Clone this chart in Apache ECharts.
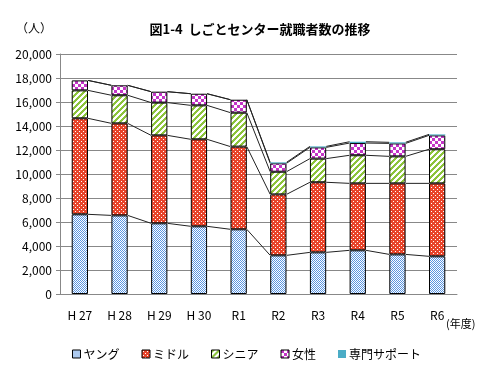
<!DOCTYPE html>
<html><head><meta charset="utf-8">
<script src="https://cdn.jsdelivr.net/npm/echarts@6/dist/echarts.min.js"></script>
<style>html,body{margin:0;padding:0;background:#fff}#c{width:493px;height:385px}</style>
</head><body><div id="c"></div>
<script>
var categories = ['H 27','H 28','H 29','H 30','R1','R2','R3','R4','R5','R6'];
var young   = [6640, 6550, 5890, 5640, 5390, 3220, 3470, 3640, 3300, 3140];
var middle  = [8000, 7670, 7330, 7250, 6890, 5080, 5840, 5580, 5920, 6080];
var senior  = [2330, 2340, 2730, 2830, 2830, 1890, 1970, 2340, 2250, 2840];
var women   = [830, 830, 910, 970, 1080, 700, 940, 1020, 1080, 1160];
var special = [0, 0, 0, 0, 0, 80, 80, 110, 90, 80];
var seriesNames = ['ヤング','ミドル','シニア','女性','専門サポート'];
var yTicks = [0,2000,4000,6000,8000,10000,12000,14000,16000,18000,20000];

function makePattern(w,h,draw){
  var c=document.createElement('canvas');c.width=w;c.height=h;
  var ctx=c.getContext('2d');draw(ctx,w,h);return {image:c,repeat:'repeat'};
}
var patYoung = makePattern(4,4,function(ctx){
  ctx.fillStyle='#ffffff';ctx.fillRect(0,0,4,4);
  ctx.fillStyle='#5b95e0';
  for(var y=0;y<4;y++)for(var x=0;x<4;x++){ if((x+y)%2===0) ctx.fillRect(x,y,1,1);}
});
var patMiddle = makePattern(4,4,function(ctx){
  ctx.fillStyle='#e8442a';ctx.fillRect(0,0,4,4);
  ctx.fillStyle='#ffffff';ctx.fillRect(1,1,1,1);ctx.fillRect(3,3,1,1);
});
var patSenior = makePattern(6,6,function(ctx){
  ctx.fillStyle='#ffffff';ctx.fillRect(0,0,6,6);
  ctx.fillStyle='#8cc43c';
  for(var y=0;y<6;y++){ for(var k=0;k<3;k++){ var x=(6-y+k)%6; ctx.fillRect(x,y,1,1);} }
});
var patWomen = makePattern(6,6,function(ctx){
  ctx.fillStyle='#ffffff';ctx.fillRect(0,0,6,6);
  ctx.fillStyle='#c435c8';ctx.fillRect(0,0,3,3);ctx.fillRect(3,3,3,3);
});
var colors=[patYoung,patMiddle,patSenior,patWomen,'#4bacc6'];
var dataSets=[young,middle,senior,women,special];

var cum=[];var acc=categories.map(function(){return 0;});
dataSets.forEach(function(d){acc=acc.map(function(a,i){return a+d[i];});cum.push(acc.slice());});

var BW=0.41;
var series=dataSets.map(function(d,k){
  return {name:seriesNames[k],type:'bar',stack:'s',barWidth:(BW*100)+'%',data:d,
    itemStyle:{color:colors[k],borderColor:'#000',borderWidth:k===4?0:1},
    emphasis:{disabled:true}};
});
var lineData=[];for(var i=0;i<categories.length-1;i++)lineData.push([i]);
series.push({type:'custom',silent:true,z:1,data:lineData,
  renderItem:function(params,api){
    var i=api.value(0);
    var band=api.size([1,0])[0];var hw=band*BW/2;
    var children=[];
    for(var k=0;k<cum.length;k++){
      var p1=api.coord([i,cum[k][i]]);var p2=api.coord([i+1,cum[k][i+1]]);
      children.push({type:'line',shape:{x1:p1[0]+hw,y1:p1[1],x2:p2[0]-hw,y2:p2[1]},
        style:{stroke:'#222',lineWidth:1}});
    }
    return {type:'group',children:children};
  }});

var chart=echarts.init(document.getElementById('c'),null,{renderer:'canvas'});
chart.setOption({
  animation:false,
  textStyle:{fontFamily:'"Noto Sans CJK JP", sans-serif'},
  title:{text:'図1-4  しごとセンター就職者数の推移',left:255,textAlign:'center',top:18,
    textStyle:{fontSize:13,fontWeight:'bold',color:'#000',fontFamily:'"Noto Sans CJK JP", sans-serif'}},
  grid:{left:60,right:36,top:54,bottom:91},
  legend:{bottom:20,left:'center',itemWidth:8,itemHeight:8,itemGap:22,icon:'rect',
    textStyle:{fontSize:12,color:'#000',padding:[0,0,0,-2]},
    data:seriesNames.map(function(n,k){return {name:n,itemStyle:{borderColor:'#000',borderWidth:k===4?0:1}};})},
  xAxis:{type:'category',data:categories,
    axisLine:{lineStyle:{color:'#888'}},axisTick:{show:false},
    axisLabel:{color:'#000',fontSize:12,margin:15}},
  yAxis:{type:'value',min:0,max:20000,interval:2000,
    axisLine:{show:true,lineStyle:{color:'#888'}},axisTick:{show:true,length:4,lineStyle:{color:'#888'}},
    splitLine:{lineStyle:{color:'#888'}},
    axisLabel:{color:'#000',fontSize:12,margin:8,formatter:function(v){return v.toLocaleString('en-US');}}},
  graphic:[
    {type:'text',left:16,top:22,style:{text:'（人）',fontSize:12,fill:'#000',fontFamily:'"Noto Sans CJK JP", sans-serif'}},
    {type:'text',left:446,top:318,style:{text:'(年度)',fontSize:11,fill:'#000',fontFamily:'"Noto Sans CJK JP", sans-serif'}}
  ],
  series:series
});
</script></body></html>
